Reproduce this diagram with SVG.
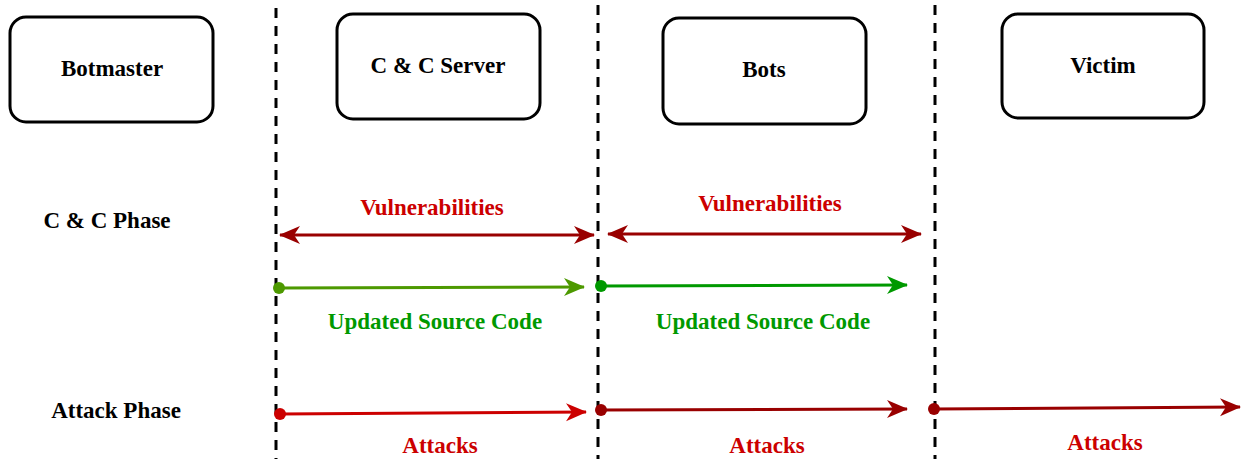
<svg xmlns="http://www.w3.org/2000/svg" width="1242" height="459" viewBox="0 0 1242 459">
<style>
.box{fill:#fff;stroke:#000;stroke-width:3}
.t{font-family:"Liberation Serif","Times New Roman",serif;font-weight:bold;font-size:23px;text-anchor:middle}
.k{fill:#000}
.r{fill:#cc0000}
.g{fill:#009900}
.dash{stroke:#000;stroke-width:3;stroke-dasharray:10 8;fill:none}
.ln{stroke-width:3;fill:none}
</style>
<defs>
<marker id="aDR" markerUnits="userSpaceOnUse" markerWidth="22" markerHeight="20" refX="20" refY="9" orient="auto-start-reverse"><path d="M0,0 L21,9 L0,18 L6,9 Z" fill="#990000"/></marker>
<marker id="aR" markerUnits="userSpaceOnUse" markerWidth="22" markerHeight="20" refX="20" refY="9" orient="auto"><path d="M0,0 L21,9 L0,18 L6,9 Z" fill="#cc0000"/></marker>
<marker id="aG1" markerUnits="userSpaceOnUse" markerWidth="22" markerHeight="20" refX="20" refY="9" orient="auto"><path d="M0,0 L21,9 L0,18 L6,9 Z" fill="#4d9900"/></marker>
<marker id="aG2" markerUnits="userSpaceOnUse" markerWidth="22" markerHeight="20" refX="20" refY="9" orient="auto"><path d="M0,0 L21,9 L0,18 L6,9 Z" fill="#009900"/></marker>
</defs>

<g id="lifelines">
<line class="dash" x1="276" y1="8" x2="276" y2="459"/>
<line class="dash" x1="598" y1="5" x2="598" y2="459"/>
<line class="dash" x1="935" y1="5" x2="935" y2="459"/>
</g>

<g id="botmaster"><rect class="box" x="10" y="17" width="203" height="105" rx="16"/><text class="t k" x="112" y="76">Botmaster</text></g>
<g id="ccserver"><rect class="box" x="337" y="14" width="203" height="105" rx="16"/><text class="t k" x="438" y="73">C &amp; C Server</text></g>
<g id="bots"><rect class="box" x="663" y="18" width="203" height="106" rx="16"/><text class="t k" x="764" y="77">Bots</text></g>
<g id="victim"><rect class="box" x="1002" y="14" width="202" height="104" rx="16"/><text class="t k" x="1103" y="73">Victim</text></g>

<g id="phase-labels">
<text class="t k" x="107" y="228">C &amp; C Phase</text>
<text class="t k" x="116" y="418">Attack Phase</text>
</g>

<g id="connectors">
<line class="ln" stroke="#990000" x1="280" y1="235" x2="594" y2="235" marker-start="url(#aDR)" marker-end="url(#aDR)"/>
<line class="ln" stroke="#990000" x1="608" y1="234" x2="921" y2="234" marker-start="url(#aDR)" marker-end="url(#aDR)"/>
<circle cx="279" cy="288" r="6" fill="#4d9900"/>
<line class="ln" stroke="#4d9900" x1="279" y1="288" x2="584" y2="287" marker-end="url(#aG1)"/>
<circle cx="601" cy="286" r="6" fill="#009900"/>
<line class="ln" stroke="#009900" x1="601" y1="286" x2="907" y2="285" marker-end="url(#aG2)"/>
<circle cx="280" cy="414" r="6" fill="#cc0000"/>
<line class="ln" stroke="#cc0000" x1="280" y1="414" x2="586" y2="412" marker-end="url(#aR)"/>
<circle cx="601" cy="410" r="6" fill="#990000"/>
<line class="ln" stroke="#990000" x1="601" y1="410" x2="907" y2="409" marker-end="url(#aDR)"/>
<circle cx="934" cy="409" r="6" fill="#990000"/>
<line class="ln" stroke="#990000" x1="934" y1="409" x2="1240" y2="407" marker-end="url(#aDR)"/>
</g>

<g id="connector-labels">
<text class="t r" x="432" y="215">Vulnerabilities</text>
<text class="t r" x="770" y="211">Vulnerabilities</text>
<text class="t g" x="435" y="329">Updated Source Code</text>
<text class="t g" x="763" y="329">Updated Source Code</text>
<text class="t r" x="440" y="453">Attacks</text>
<text class="t r" x="767" y="453">Attacks</text>
<text class="t r" x="1105" y="450">Attacks</text>
</g>
</svg>
